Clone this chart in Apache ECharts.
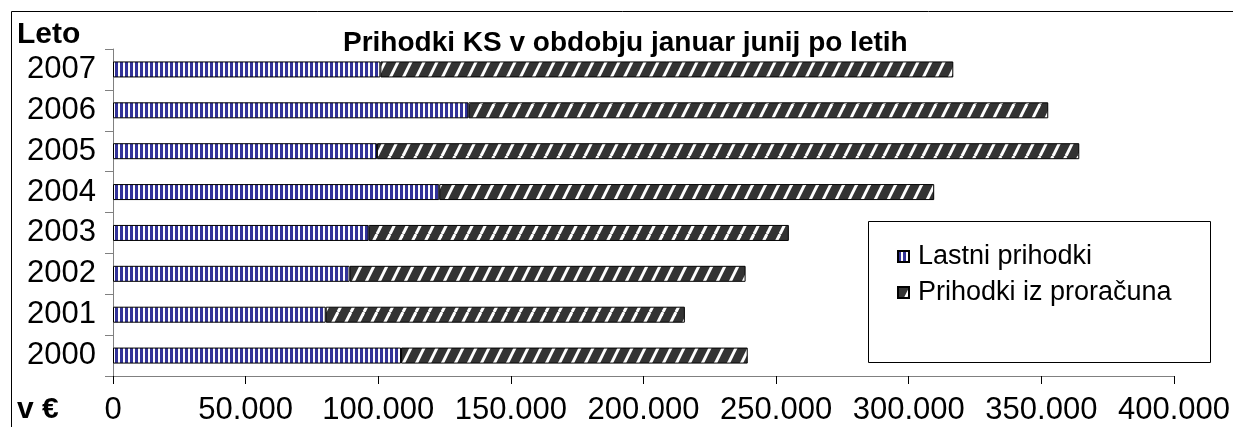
<!DOCTYPE html>
<html>
<head>
<meta charset="utf-8">
<script src="https://cdn.jsdelivr.net/npm/echarts@6/dist/echarts.min.js"></script>
<style>
  html, body { margin: 0; padding: 0; background: #fff; }
  #chart { width: 1233px; height: 427px; }
</style>
</head>
<body>
<div id="chart"></div>
<script>
// podatki
const years = ['2000', '2001', '2002', '2003', '2004', '2005', '2006', '2007']
const lastniPrihodki = [108600, 80200, 89200, 96400, 123000, 99500, 134000, 100800]
const prihodkiProracun = [130700, 135400, 149300, 158400, 186600, 264800, 218600, 216000]
const xMax = 400000
const xStep = 50000

const FONT = "'Liberation Sans', Arial, sans-serif"

// navpične modre črte
const stripePattern = () => {
  const c = document.createElement('canvas')
  c.width = 5
  c.height = 4
  const ctx = c.getContext('2d')
  ctx.fillStyle = '#ffffff'
  ctx.fillRect(0, 0, 5, 4)
  ctx.fillStyle = '#333399'
  ctx.fillRect(0, 0, 3, 4)
  return c
}

// diagonalno šrafiranje
const hatchPattern = () => {
  const w = 13, h = 26
  const c = document.createElement('canvas')
  c.width = w
  c.height = h
  const ctx = c.getContext('2d')
  ctx.fillStyle = '#333333'
  ctx.fillRect(0, 0, w, h)
  ctx.strokeStyle = '#ffffff'
  ctx.lineWidth = 3
  for (const x0 of [-w, 0, w]) {
    ctx.beginPath()
    ctx.moveTo(x0, h)
    ctx.lineTo(x0 + w, 0)
    ctx.stroke()
  }
  return c
}

const fmt = v => String(v).replace(/\B(?=(\d{3})+(?!\d))/g, '.')

const chart = echarts.init(document.getElementById('chart'))

const option = {
  animation: false,
  backgroundColor: '#ffffff',
  textStyle: { fontFamily: FONT },
  title: {
    text: 'Prihodki KS v obdobju januar junij po letih',
    left: 343,
    top: 29,
    padding: 0,
    textStyle: { fontFamily: FONT, fontSize: 28, fontWeight: 'bold', color: '#000' }
  },
  grid: { left: 113, right: 57, top: 49, bottom: 51, containLabel: false },
  legend: {
    orient: 'vertical',
    left: 897,
    top: 241,
    padding: 0,
    itemGap: 5,
    itemWidth: 11,
    itemHeight: 11,
    icon: 'rect',
    textStyle: { fontFamily: FONT, fontSize: 27, color: '#000', lineHeight: 31, padding: [0, 0, 0, 4] },
    data: ['Lastni prihodki', 'Prihodki iz proračuna']
  },
  xAxis: {
    type: 'value',
    min: 0,
    max: xMax,
    interval: xStep,
    axisLine: { show: true, lineStyle: { color: '#808080' } },
    axisTick: { show: true, length: 8, lineStyle: { color: '#000' } },
    splitLine: { show: false },
    axisLabel: { color: '#000', fontSize: 31, fontFamily: FONT, margin: 19, formatter: fmt }
  },
  yAxis: {
    type: 'category',
    data: years,
    axisLine: { lineStyle: { color: '#808080' } },
    axisTick: { show: true, length: 8, lineStyle: { color: '#808080' } },
    axisLabel: { color: '#000', fontSize: 31, fontFamily: FONT, margin: 17 }
  },
  series: [
    {
      name: 'Lastni prihodki',
      type: 'bar',
      stack: 'skupaj',
      barWidth: 16,
      data: lastniPrihodki,
      itemStyle: { color: { image: stripePattern(), repeat: 'repeat' }, borderColor: '#000', borderWidth: 1 }
    },
    {
      name: 'Prihodki iz proračuna',
      type: 'bar',
      stack: 'skupaj',
      barWidth: 16,
      data: prihodkiProracun,
      itemStyle: { color: { image: hatchPattern(), repeat: 'repeat' }, borderColor: '#000', borderWidth: 1 }
    }
  ],
  graphic: [
    // okvir grafikona
    { type: 'rect', shape: { x: 11.5, y: 11.5, width: 1400, height: 600 }, style: { fill: 'none', stroke: '#000', lineWidth: 1 }, silent: true },
    // okvir legende
    { type: 'rect', shape: { x: 868.5, y: 221.5, width: 342, height: 141 }, style: { fill: 'none', stroke: '#000', lineWidth: 1 }, silent: true, z: 0 },
    { type: 'text', left: 17, top: 20, style: { text: 'Leto', font: 'bold 30px ' + FONT, fill: '#000' } },
    { type: 'text', left: 17, top: 395, style: { text: 'v €', font: 'bold 30px ' + FONT, fill: '#000' } }
  ]
}

chart.setOption(option)
</script>
</body>
</html>
